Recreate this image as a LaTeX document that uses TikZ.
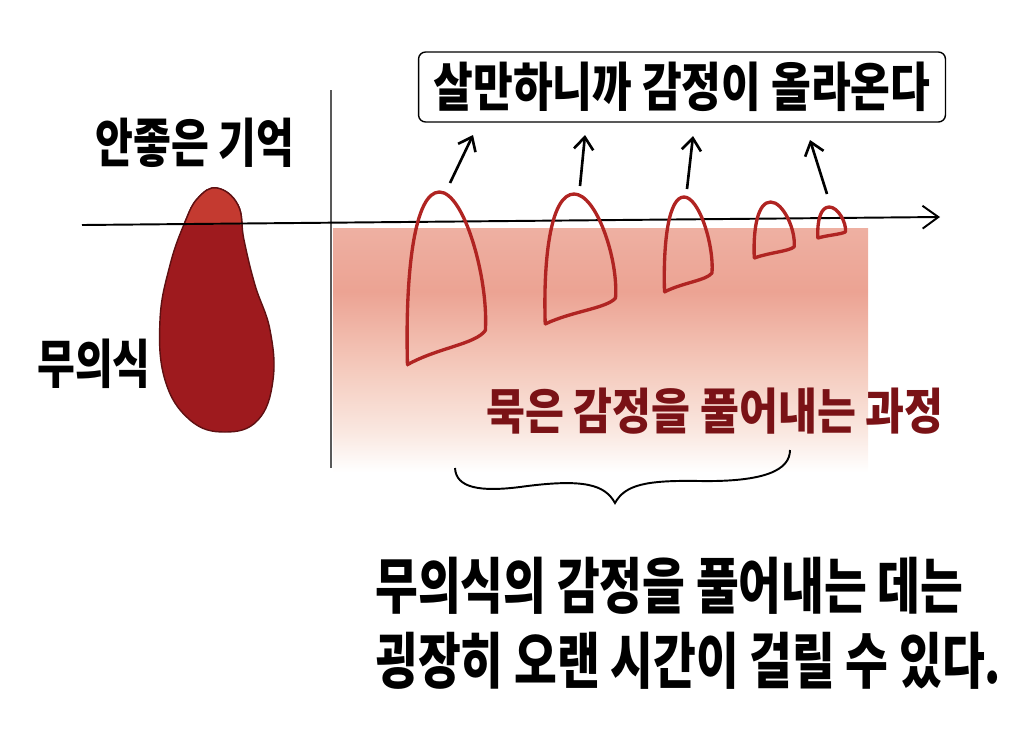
\documentclass[tikz,border=0pt]{standalone}
\usepackage{fontspec}
\newfontfamily\kor{Noto Sans CJK KR}
\usetikzlibrary{positioning, arrows.meta, calc}
\definecolor{blobred}{RGB}{158,26,30}
\definecolor{blobtop}{RGB}{196,58,48}
\definecolor{lumpred}{RGB}{176,36,34}
\definecolor{textred}{RGB}{122,18,22}
\definecolor{pinkT}{RGB}{238,176,162}
\definecolor{pinkA}{RGB}{236,163,147}
\definecolor{pinkB}{RGB}{245,205,192}
\definecolor{pinkC}{RGB}{250,232,225}
\pgfdeclareverticalshading{pinkfade}{100bp}{color(0bp)=(white); color(25bp)=(white); color(33bp)=(pinkC); color(45bp)=(pinkB); color(62bp)=(pinkA); color(75bp)=(pinkT); color(100bp)=(pinkT)}

\begin{document}
\begin{tikzpicture}[
    x=0.02cm, y=-0.02cm,
    kfont/.style n args={2}{font=\kor\bfseries\fontsize{#1}{#1}\selectfont\addfontfeatures{FakeStretch=#2}},
    title/.style={draw, line width=0.8pt, rounded corners=4pt, minimum width=10.54cm, minimum height=1.4cm, inner sep=0pt, kfont={30}{0.82}},
    label/.style={inner sep=0pt, kfont={30}{0.78}},
    redtext/.style={inner sep=0pt, text=textred, kfont={28}{0.86}},
    caption/.style={inner sep=0pt, kfont={34.6}{0.765}},
    axis/.style={-{Straight Barb[length=9pt, width=13pt]}, line width=1.1pt},
    rise/.style={-{Straight Barb[length=7pt, width=11pt]}, line width=1.5pt},
    lumpline/.style={draw=lumpred, line width=1.9pt, line join=round},
    lump/.pic={\draw[lumpline] (0.03,1) .. controls (0,0.45) and (0.12,0) .. (0.42,0) .. controls (0.72,0) and (1.02,0.5) .. (0.98,0.8) .. controls (0.86,0.88) and (0.4,0.9) .. cycle;},
]
\useasboundingbox (0,0) rectangle (1024,731);

\shade[shading=pinkfade] (333,228) rectangle (868,472);
\draw[gray!70!black, line width=0.7pt] (331,90) -- (331,468);

\fill[blobred, draw=blobred!60!black, line width=0.8pt] plot[smooth cycle, tension=0.7] coordinates {(217,188) (238,205) (244,240) (255,285) (270,330) (273,380) (258,420) (225,432) (190,420) (165,380) (160,320) (170,265) (185,222) (198,198)};
\begin{scope}
\clip (0,0) rectangle (1024,224);
\fill[blobtop, draw=blobred!60!black, line width=0.8pt] plot[smooth cycle, tension=0.7] coordinates {(217,188) (238,205) (244,240) (255,285) (270,330) (273,380) (258,420) (225,432) (190,420) (165,380) (160,320) (170,265) (185,222) (198,198)};
\end{scope}

\coordinate (ax0) at (82,225);
\coordinate (ax1) at (940,217);
\draw[axis] (ax0) -- (ax1);

\pic[xscale=82, yscale=173] at (405,192) {lump};
\pic[xscale=74, yscale=130] at (543,194) {lump};
\pic[xscale=50, yscale=95] at (663,197) {lump};
\pic[xscale=42, yscale=56] at (753,202) {lump};
\pic[xscale=29, yscale=31] at (817,207) {lump};

\node[title] (rise) at (682,87) {살만하니까 감정이 올라온다};
\node[label] (memory) at (195,143) {안좋은 기억};
\node[label, anchor=west] (uncon) at (37,364) {무의식};
\node[redtext] (process) at (715,411) {묵은 감정을 풀어내는 과정};
\node[caption, anchor=west] (note1) at (375,586) {무의식의 감정을 풀어내는 데는};
\node[caption, anchor=west] (note2) at (375,661) {굉장히 오랜 시간이 걸릴 수 있다.};

\coordinate (r1a) at (450,183);
\coordinate (r1b) at (473,135);
\coordinate (r2a) at (580,186);
\coordinate (r2b) at (585,135);
\coordinate (r3a) at (687,189);
\coordinate (r3b) at (693,136);
\coordinate (r4a) at (827,194);
\coordinate (r4b) at (810,140);
\draw[rise] (r1a) -- (r1b);
\draw[rise] (r2a) -- (r2b);
\draw[rise] (r3a) -- (r3b);
\draw[rise] (r4a) -- (r4b);

\coordinate (bl) at (455,468);
\coordinate (bt) at (615,503);
\coordinate (br) at (790,450);
\draw[line width=1.1pt] (bl) .. controls (456,488) and (480,492) .. (520,487) .. controls (585,478) and (605,485) .. (bt) .. controls (625,485) and (645,480) .. (700,481) .. controls (765,482) and (790,470) .. (br);
\end{tikzpicture}
\end{document}
